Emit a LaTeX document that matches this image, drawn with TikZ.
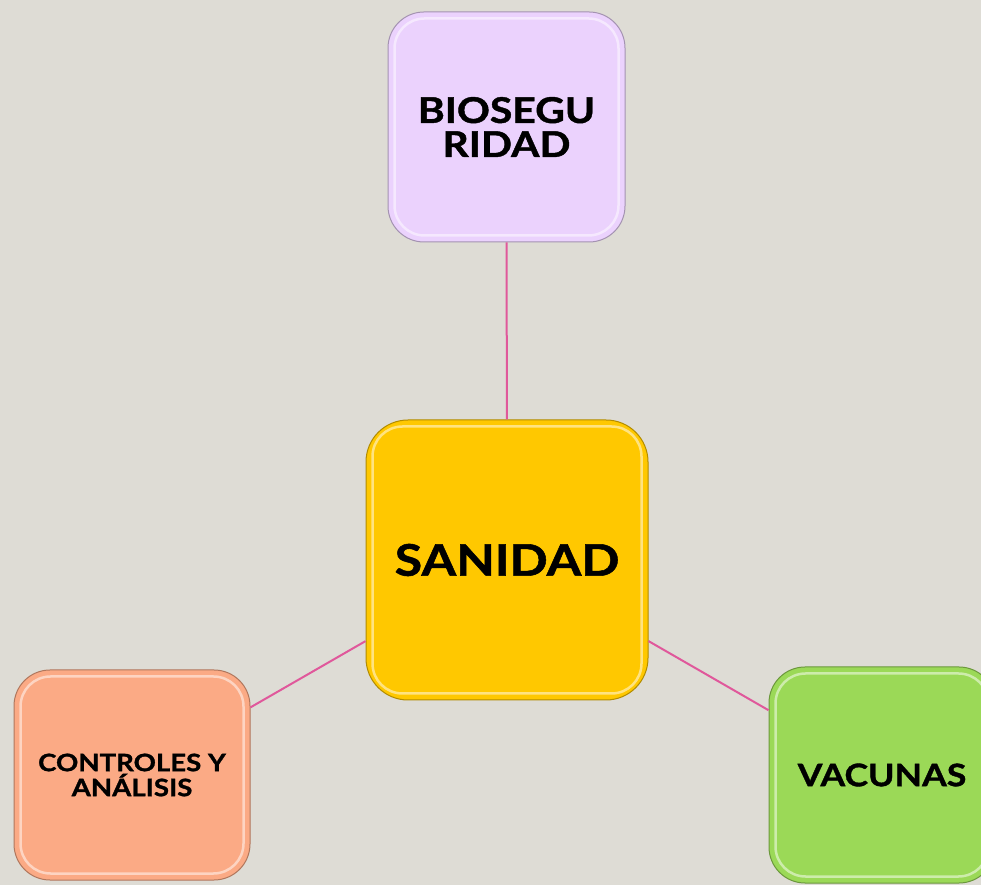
\documentclass[tikz,border=0pt]{standalone}
\usepackage{fontspec}
\setmainfont{Lato}[FakeStretch=1.15, BoldFeatures={FakeBold=1.2}]
\definecolor{bgC}{RGB}{222,220,213}
\definecolor{bioC}{RGB}{235,210,253}
\definecolor{sanC}{RGB}{255,200,0}
\definecolor{conC}{RGB}{251,170,133}
\definecolor{vacC}{RGB}{155,217,87}
\definecolor{linkC}{RGB}{224,88,155}

\begin{document}
\begin{tikzpicture}[x=1pt, y=1pt,
    box/.style={
        draw=#1!70!black,
        fill=#1,
        line width=1pt,
        rounded corners=36pt,
        align=center,
        inner sep=0pt},
    shine/.style={draw=white, draw opacity=0.5, line width=2.5pt, rounded corners=30pt},
    link/.style={draw=linkC, line width=2pt}]

    \useasboundingbox (0,0) rectangle (981,885);
    \fill[bgC] (0,0) rectangle (981,885);
    \clip (0,0) rectangle (981,885);

    \node[box=bioC, minimum width=237pt, minimum height=230pt,
          font=\bfseries\fontsize{35.5}{34}\selectfont] (bio) at (506.5,758) {BIOSEGU\\RIDAD};
    \node[box=sanC, minimum width=282pt, minimum height=280pt, rounded corners=42pt,
          font=\bfseries\fontsize{43.5}{45}\selectfont] (san) at (507,325) {SANIDAD};
    \node[box=conC, minimum width=236pt, minimum height=210pt,
          font=\bfseries\fontsize{24}{25}\selectfont] (con) at (132,110) {CONTROLES Y\\ANÁLISIS};
    \node[box=vacC, minimum width=226pt, minimum height=216pt,
          font=\bfseries\fontsize{31}{31}\selectfont] (vac) at (882,110) {VACUNAS};

    % bevel highlight
    \foreach \n in {bio,san,con,vac}
        \draw[shine] ([shift={(7,7)}]\n.south west) rectangle ([shift={(-7,-7)}]\n.north east);

    \draw[link] (bio) -- (san);
    \draw[link] (san) -- (con);
    \draw[link] (san) -- (vac);
\end{tikzpicture}
\end{document}
